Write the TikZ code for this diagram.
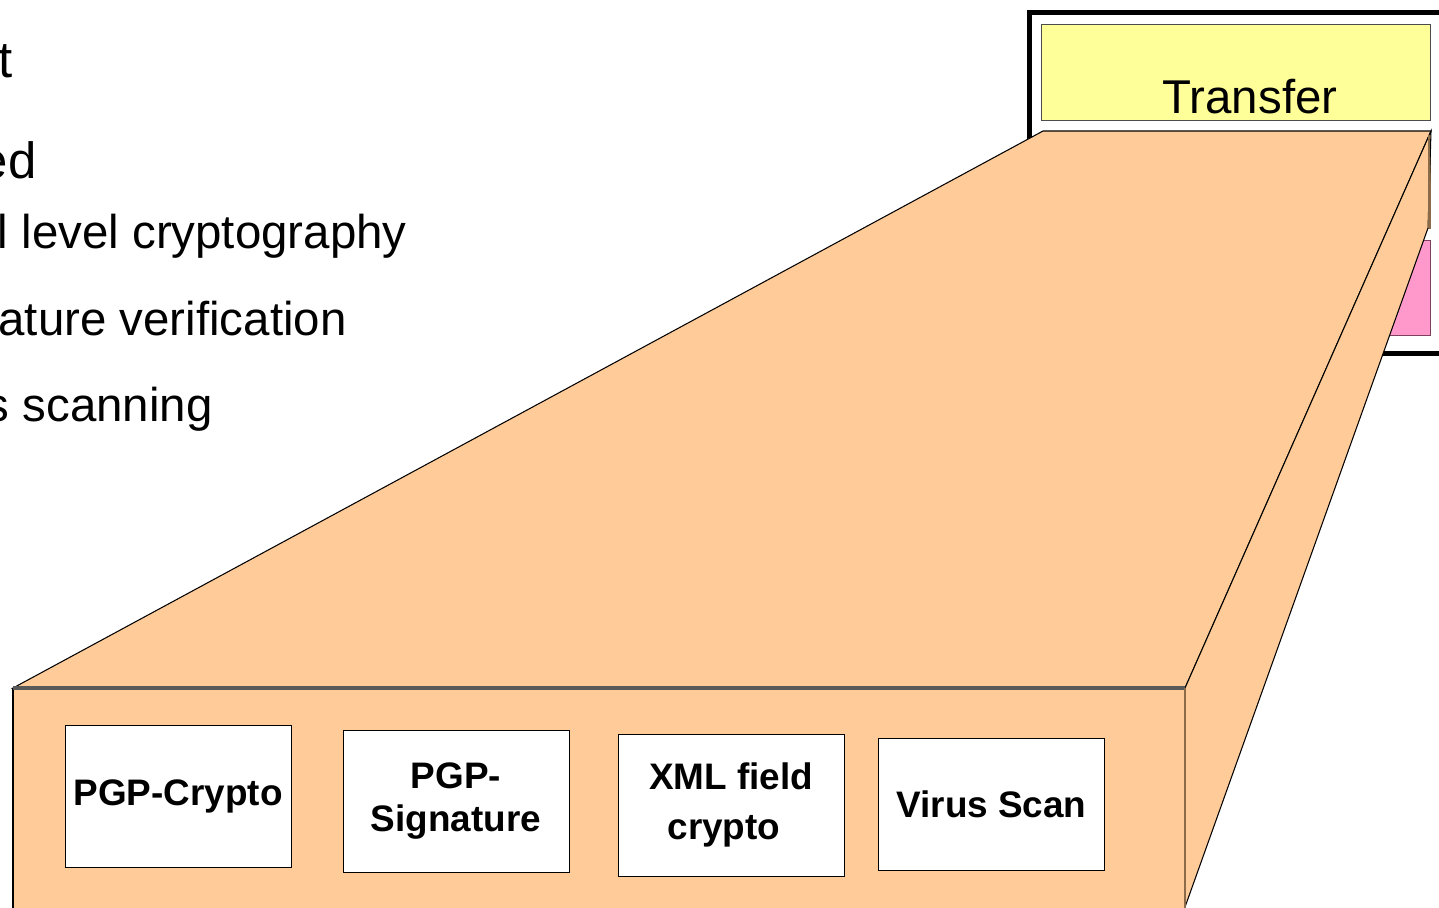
\documentclass[tikz,border=0pt]{standalone}
\usepackage{fontspec}
\setmainfont{Liberation Sans}
\setsansfont{Liberation Sans}
\definecolor{slab}{HTML}{FFCC99}
\definecolor{slabedge}{HTML}{8B6B4A}
\definecolor{transferfill}{HTML}{FFFF99}
\definecolor{pinkfill}{HTML}{FF99CC}
\definecolor{pinkedge}{HTML}{7F3F5F}
\tikzset{
  module/.style={draw=black, fill=white, minimum width=4.52cm, minimum height=2.84cm, align=center, inner sep=0pt, font=\bfseries\fontsize{21}{25}\selectfont},
  bullet/.style={anchor=base east, inner sep=0pt, font=\fontsize{27}{32}\selectfont},
  mainbullet/.style={anchor=base east, inner sep=0pt, font=\fontsize{29}{34}\selectfont}
}
\begin{document}
\begin{tikzpicture}[x=0.02cm, y=-0.02cm]
\useasboundingbox (0,0) rectangle (1439,907);
\clip (0,0) rectangle (1439,907);
% text of the slide behind
\node[mainbullet] (b1) at (13,77) {t};
\node[mainbullet] (b2) at (37,178) {ed};
\node[bullet] (b3) at (407,248) {l level cryptography};
\node[bullet] (b4) at (347,335) {ature verification};
\node[bullet] (b5) at (213,421) {s scanning};
% frame with layers
\draw[line width=2.5pt] (1029.5,12.5) rectangle (1470,353.5);
\node[draw=black!70, fill=transferfill, minimum width=7.78cm, minimum height=1.92cm, inner sep=0pt] (layer1) at (1235.5,72) {};
\node[anchor=base, inner sep=0pt, font=\fontsize{27}{32}\selectfont] (transfer) at (1250,113) {Transfer};
\node[draw=slabedge, fill=slab, minimum width=7.78cm, minimum height=1.94cm, inner sep=0pt] (layer2) at (1235.5,179.5) {};
\node[draw=pinkedge, fill=pinkfill, minimum width=7.78cm, minimum height=1.9cm, inner sep=0pt] (layer3) at (1235.5,287.5) {};
% the opened layer
\filldraw[fill=slab, draw=black, line width=0.6pt] (13,688) -- (1043,131) -- (1431,131) -- (1185,688) -- cycle;
\filldraw[fill=slab, draw=black, line width=0.6pt] (1185,688) -- (1431,131) -- (1428,228) -- (1185,907) -- cycle;
\draw[slabedge, line width=1.2pt] (1429,135) -- (1429,228);
\fill[slab] (13,688) rectangle (1185,920);
\draw[black, line width=0.8pt] (13,688) -- (13,920);
\draw[black!65, line width=1.8pt] (13,688) -- (1185,688);
\draw[slabedge, line width=1.2pt] (1185,688) -- (1185,920);
% modules
\node[module] (crypto) at (178,796) {PGP-Crypto};
\node[module] (signature) at (456,801) {PGP-\\[-1pt]Signature};
\node[module] (xml) at (731,805) {XML field\\[3pt]crypto\hspace*{8pt}};
\node[module, minimum height=2.64cm] (virus) at (991.5,804) {Virus Scan};
\end{tikzpicture}
\end{document}
